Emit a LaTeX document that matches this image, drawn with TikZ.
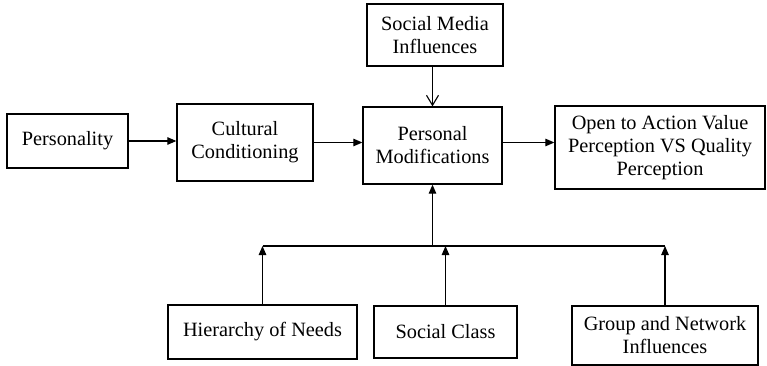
\documentclass[tikz,border=0pt]{standalone}
\usepackage{fontspec}
\setmainfont{Liberation Serif}
\usetikzlibrary{arrows.meta}
\begin{document}
\begin{tikzpicture}[x=1pt,y=-1pt,
  box/.style={draw,line width=1.3pt,inner sep=0pt,align=center,
    font=\fontsize{20.3}{23}\selectfont},
  conn/.style={line width=1.1pt,-{Triangle[length=9pt,width=7.5pt]}},
  openconn/.style={line width=1.1pt,-{Straight Barb[length=10pt,width=12pt]}},
  bar/.style={line width=1.1pt}]
\useasboundingbox (0,0) rectangle (767,366);
\node[box,minimum width=121pt,minimum height=54pt] (pers) at (67.5,141) {Personality};
\node[box,minimum width=136pt,minimum height=77pt] (cult) at (245,142.5) {Cultural\\Conditioning};
\node[box,minimum width=139pt,minimum height=77pt] (pm) at (432.5,145.5) {Personal\\Modifications};
\node[box,minimum width=210pt,minimum height=83pt] (open) at (660,147.5) {Open to Action Value\\Perception VS Quality\\Perception};
\node[box,minimum width=136pt,minimum height=62pt] (sm) at (435,35) {Social Media\\Influences};
\node[box,minimum width=189pt,minimum height=54pt] (hier) at (262.5,332) {Hierarchy of Needs};
\node[box,minimum width=143pt,minimum height=52pt] (sc) at (445.5,332) {Social Class};
\node[box,minimum width=186pt,minimum height=59pt] (grp) at (665,335.5) {Group and Network\\Influences};
\coordinate (bus) at (432.5,246);
\draw[conn] (pers.east) -- (cult.west |- pers.east);
\draw[conn] (cult.east) -- (pm.west |- cult.east);
\draw[conn] (pm.east |- cult.east) -- (open.west |- cult.east);
\draw[openconn] (pm.north |- sm.south) -- (pm.north);
\draw[conn] (bus) -- (pm.south);
\draw[bar] (hier.north |- bus) -- (grp.north |- bus);
\draw[conn] (hier.north) -- (hier.north |- bus);
\draw[conn] (sc.north) -- (sc.north |- bus);
\draw[conn] (grp.north) -- (grp.north |- bus);
\end{tikzpicture}
\end{document}
